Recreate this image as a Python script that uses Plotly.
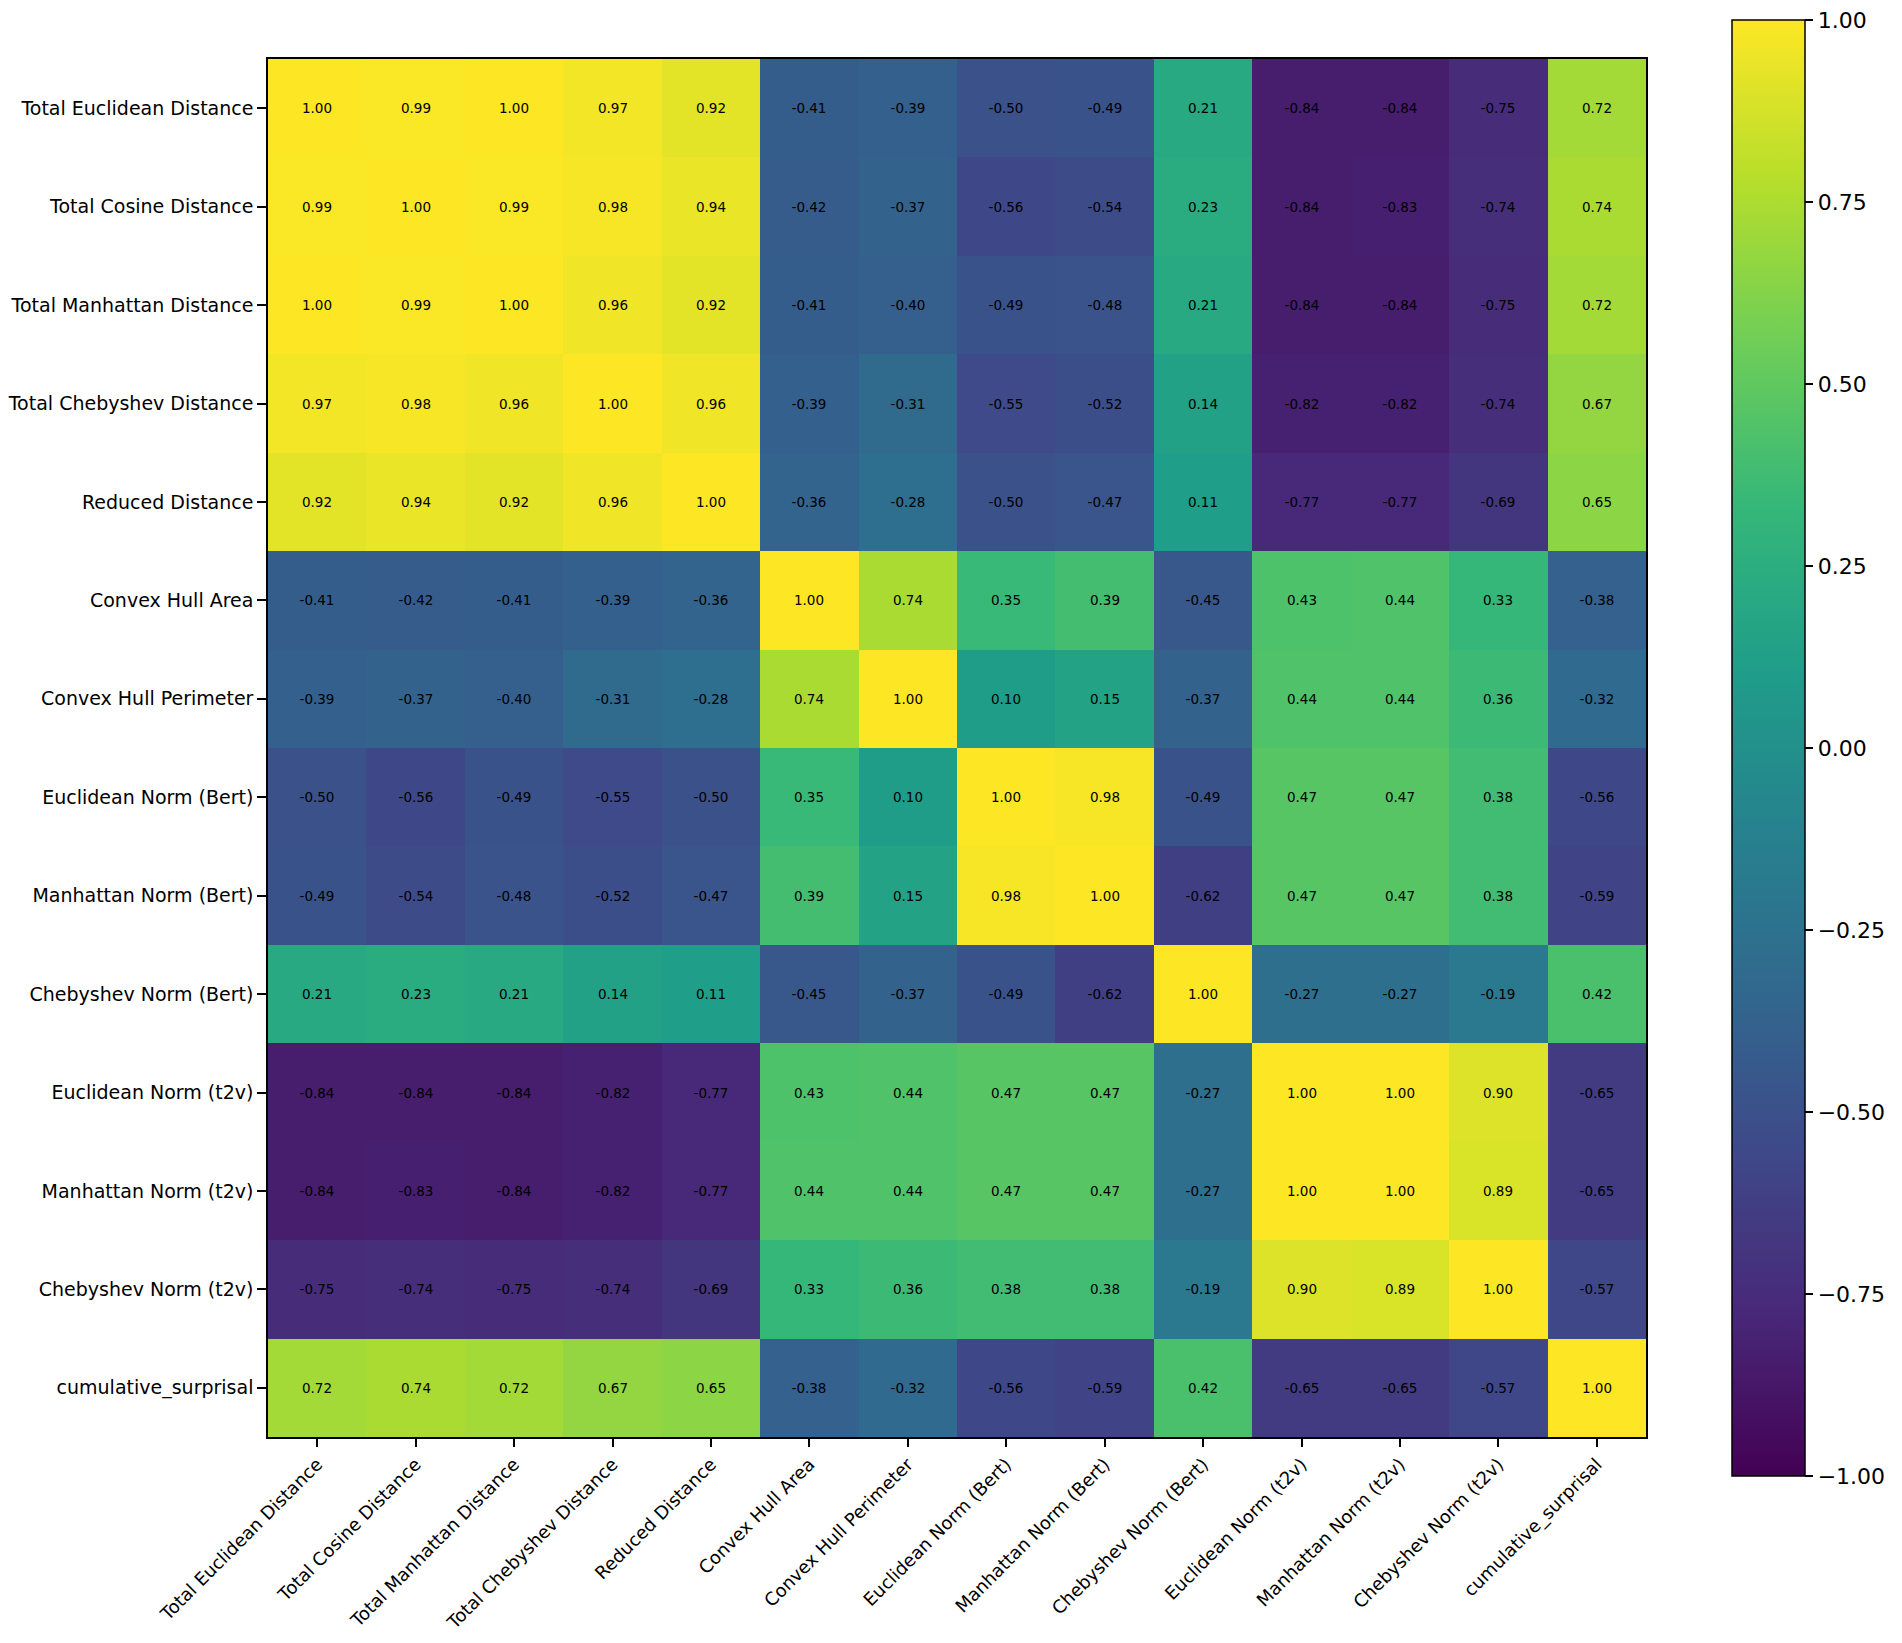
import plotly.graph_objects as go

labels = [
    "Total Euclidean Distance", "Total Cosine Distance", "Total Manhattan Distance",
    "Total Chebyshev Distance", "Reduced Distance", "Convex Hull Area",
    "Convex Hull Perimeter", "Euclidean Norm (Bert)", "Manhattan Norm (Bert)",
    "Chebyshev Norm (Bert)", "Euclidean Norm (t2v)", "Manhattan Norm (t2v)",
    "Chebyshev Norm (t2v)", "cumulative_surprisal",
]

row_total_euclidean = [1.00, 0.99, 1.00, 0.97, 0.92, -0.41, -0.39, -0.50, -0.49, 0.21, -0.84, -0.84, -0.75, 0.72]
row_total_cosine = [0.99, 1.00, 0.99, 0.98, 0.94, -0.42, -0.37, -0.56, -0.54, 0.23, -0.84, -0.83, -0.74, 0.74]
row_total_manhattan = [1.00, 0.99, 1.00, 0.96, 0.92, -0.41, -0.40, -0.49, -0.48, 0.21, -0.84, -0.84, -0.75, 0.72]
row_total_chebyshev = [0.97, 0.98, 0.96, 1.00, 0.96, -0.39, -0.31, -0.55, -0.52, 0.14, -0.82, -0.82, -0.74, 0.67]
row_reduced = [0.92, 0.94, 0.92, 0.96, 1.00, -0.36, -0.28, -0.50, -0.47, 0.11, -0.77, -0.77, -0.69, 0.65]
row_hull_area = [-0.41, -0.42, -0.41, -0.39, -0.36, 1.00, 0.74, 0.35, 0.39, -0.45, 0.43, 0.44, 0.33, -0.38]
row_hull_perimeter = [-0.39, -0.37, -0.40, -0.31, -0.28, 0.74, 1.00, 0.10, 0.15, -0.37, 0.44, 0.44, 0.36, -0.32]
row_euclid_bert = [-0.50, -0.56, -0.49, -0.55, -0.50, 0.35, 0.10, 1.00, 0.98, -0.49, 0.47, 0.47, 0.38, -0.56]
row_manhattan_bert = [-0.49, -0.54, -0.48, -0.52, -0.47, 0.39, 0.15, 0.98, 1.00, -0.62, 0.47, 0.47, 0.38, -0.59]
row_chebyshev_bert = [0.21, 0.23, 0.21, 0.14, 0.11, -0.45, -0.37, -0.49, -0.62, 1.00, -0.27, -0.27, -0.19, 0.42]
row_euclid_t2v = [-0.84, -0.84, -0.84, -0.82, -0.77, 0.43, 0.44, 0.47, 0.47, -0.27, 1.00, 1.00, 0.90, -0.65]
row_manhattan_t2v = [-0.84, -0.83, -0.84, -0.82, -0.77, 0.44, 0.44, 0.47, 0.47, -0.27, 1.00, 1.00, 0.89, -0.65]
row_chebyshev_t2v = [-0.75, -0.74, -0.75, -0.74, -0.69, 0.33, 0.36, 0.38, 0.38, -0.19, 0.90, 0.89, 1.00, -0.57]
row_surprisal = [0.72, 0.74, 0.72, 0.67, 0.65, -0.38, -0.32, -0.56, -0.59, 0.42, -0.65, -0.65, -0.57, 1.00]

colorbar_ticks = [-1.00, -0.75, -0.50, -0.25, 0.00, 0.25, 0.50, 0.75, 1.00]

z = [
    row_total_euclidean, row_total_cosine, row_total_manhattan, row_total_chebyshev,
    row_reduced, row_hull_area, row_hull_perimeter, row_euclid_bert,
    row_manhattan_bert, row_chebyshev_bert, row_euclid_t2v, row_manhattan_t2v,
    row_chebyshev_t2v, row_surprisal,
]
text = [[f"{v:.2f}" for v in row] for row in z]
cb_text = [f"{t:.2f}".replace("-", "\u2212") for t in colorbar_ticks]

# page body has an 8px margin; figure sized to fit without scrollbars
W, H = 1886, 1627
L, T = 260, 51
PLOT = 1378
R = W - L - PLOT
B = H - T - PLOT

fig = go.Figure(go.Heatmap(
    z=z, x=labels, y=labels, text=text, texttemplate="%{text}",
    textfont=dict(size=13.5, color="black", family="DejaVu Sans"),
    colorscale="Viridis", zmin=-1, zmax=1,
    colorbar=dict(
        x=(1724 - L) / PLOT, xanchor="left", xpad=0, ypad=0,
        y=0.5, yanchor="middle", len=(1476 - 20) / PLOT, lenmode="fraction",
        thickness=73, thicknessmode="pixels",
        outlinecolor="black", outlinewidth=1.5,
        tickvals=colorbar_ticks, ticktext=cb_text, ticklabeloverflow="allow",
        ticks="outside", ticklen=8, tickwidth=1.5, tickcolor="black",
        tickfont=dict(size=22, color="black", family="DejaVu Sans"),
    ),
))

fig.update_layout(
    width=W, height=H,
    margin=dict(l=L, r=R, t=T, b=B, autoexpand=False),
    paper_bgcolor="white", plot_bgcolor="white",
    font=dict(family="DejaVu Sans", color="black"),
)
fig.update_xaxes(
    tickangle=-45, tickfont=dict(size=18, color="black"), automargin=False,
    ticks="outside", ticklen=8, tickwidth=1.5, tickcolor="black",
    showline=True, linecolor="black", linewidth=1.5, mirror=True,
    showgrid=False, zeroline=False,
)
fig.update_yaxes(
    autorange="reversed", tickfont=dict(size=19, color="black"), automargin=False,
    ticks="outside", ticklen=9, tickwidth=1.5, tickcolor="black",
    showline=True, linecolor="black", linewidth=1.5, mirror=True,
    showgrid=False, zeroline=False,
)

fig.write_html("out.html")
